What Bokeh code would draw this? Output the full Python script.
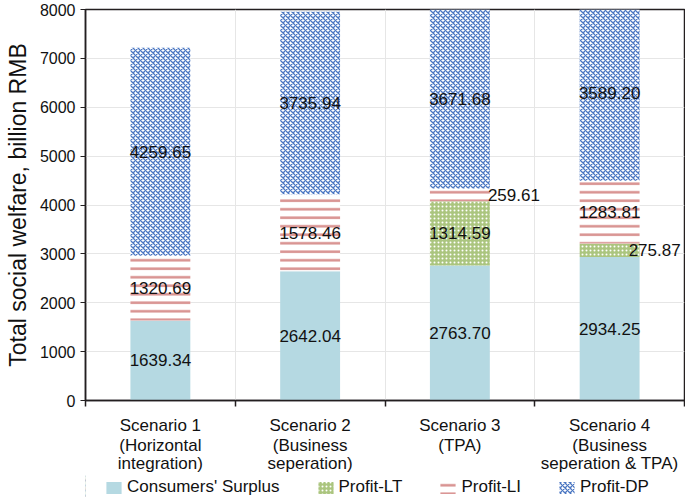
from bokeh.plotting import figure
from bokeh.layouts import column
from bokeh.models import ColumnDataSource, Range1d, FixedTicker, Legend, LegendItem, LinearAxis
from bokeh.embed import file_html
from bokeh.resources import INLINE
from bokeh.core.properties import value

# ---- data ----
scenario_lines = [
    ["Scenario 1", "(Horizontal", "integration)"],
    ["Scenario 2", "(Business", "seperation)"],
    ["Scenario 3", "(TPA)", ""],
    ["Scenario 4", "(Business", "seperation & TPA)"],
]
series_names = ["Consumers' Surplus", "Profit-LT", "Profit-LI", "Profit-DP"]
consumers_surplus = [1639.34, 2642.04, 2763.70, 2934.25]
profit_lt = [0.0, 0.0, 1314.59, 275.87]
profit_li = [1320.69, 1578.46, 259.61, 1283.81]
profit_dp = [4259.65, 3735.94, 3671.68, 3589.20]
y_ticks = [0, 1000, 2000, 3000, 4000, 5000, 6000, 7000, 8000]

series_values = [consumers_surplus, profit_lt, profit_li, profit_dp]

FONT = "Liberation Sans"
DARK = "#231f20"
TXT = "#111111"

styles = [
    dict(fill_color="#b5d9e2"),
    dict(fill_color="#abc57f", hatch_pattern="dot", hatch_color="white", hatch_scale=4, hatch_weight=1.6),
    dict(fill_color="white", hatch_pattern="horizontal_line", hatch_color="#d8918f", hatch_scale=8.5, hatch_weight=2.5),
    dict(fill_color="white", hatch_pattern="diagonal_cross", hatch_color="#4a76c2", hatch_scale=5, hatch_weight=1.3),
]

n = len(scenario_lines)
xs = [i + 0.5 for i in range(n)]

p = figure(frame_width=599, frame_height=391, output_backend="svg", toolbar_location=None,
           x_range=Range1d(0, n), y_range=Range1d(0, 8000),
           min_border_left=85, min_border_top=9, min_border_right=1, min_border_bottom=0)
p.background_fill_color = "white"
p.border_fill_color = "white"
p.outline_line_color = DARK
p.outline_line_width = 1.5

# y axis
ya = p.yaxis[0]
ya.ticker = FixedTicker(ticks=y_ticks)
ya.axis_line_color = DARK
ya.axis_line_width = 1.5
ya.major_tick_line_color = DARK
ya.major_tick_out = 5
ya.major_tick_in = 0
ya.minor_tick_line_color = None
ya.major_label_text_font = FONT
ya.major_label_text_font_size = "16px"
ya.major_label_text_color = TXT
ya.axis_label = "Total social welfare, billion RMB"
ya.axis_label_text_font = FONT
ya.axis_label_text_font_size = "23px"
ya.axis_label_text_font_style = "normal"
ya.axis_label_text_color = TXT
ya.axis_label_text_line_height = 1.0
ya.axis_label_standoff = 6

# x axis: one axis per label line (stacked below the frame)
xa = p.xaxis[0]
xa.ticker = FixedTicker(ticks=xs, minor_ticks=list(range(n + 1)))
xa.axis_line_color = DARK
xa.axis_line_width = 1.5
xa.major_tick_line_color = None
xa.major_tick_out = 6
xa.major_tick_in = 0
xa.minor_tick_line_color = DARK
xa.minor_tick_line_width = 1.5
xa.minor_tick_out = 6
xa.minor_tick_in = 0
xa.major_label_standoff = 9
xa.major_label_overrides = {x: lines[0] for x, lines in zip(xs, scenario_lines)}

extra_axes = []
for li, standoff in ((1, -2), (2, -4)):
    ax = LinearAxis(ticker=FixedTicker(ticks=xs))
    ax.axis_line_color = None
    ax.major_tick_line_color = None
    ax.minor_tick_line_color = None
    ax.major_tick_out = 0
    ax.major_tick_in = 0
    ax.minor_tick_out = 0
    ax.major_label_standoff = standoff
    ax.major_label_overrides = {x: lines[li] for x, lines in zip(xs, scenario_lines)}
    p.add_layout(ax, "below")
    extra_axes.append(ax)

for ax in [xa] + extra_axes:
    ax.major_label_text_font = FONT
    ax.major_label_text_font_size = "17px"
    ax.major_label_text_color = TXT

p.xgrid.ticker = FixedTicker(ticks=list(range(1, n)))
p.xgrid.grid_line_color = "#e6e6e6"
p.ygrid.ticker = FixedTicker(ticks=y_ticks)
p.ygrid.grid_line_color = "#e6e6e6"

# stacked bars
bottoms = [0.0] * n
label_x, label_y, label_txt, label_align, label_dx = [], [], [], [], []
nudge = {(2, 2): 28, (3, 1): 19}  # small segments labelled to the right
for k, (name, vals) in enumerate(zip(series_names, series_values)):
    tops = [b + v for b, v in zip(bottoms, vals)]
    src = ColumnDataSource(dict(x=xs, bottom=bottoms, top=tops))
    p.vbar(x="x", bottom="bottom", top="top", width=0.4, source=src,
           line_color=None, **styles[k])
    for i in range(n):
        if vals[i] > 0:
            label_x.append(xs[i])
            label_y.append((bottoms[i] + tops[i]) / 2)
            label_txt.append("%.2f" % vals[i])
            if (i, k) in nudge:
                label_align.append("left")
                label_dx.append(nudge[(i, k)])
            else:
                label_align.append("center")
                label_dx.append(0)
    bottoms = tops

lsrc = ColumnDataSource(dict(x=label_x, y=label_y, t=label_txt, a=label_align, dx=label_dx))
p.text(x="x", y="y", text="t", source=lsrc, text_align="a", x_offset="dx",
       text_baseline="middle", text_font=value(FONT), text_font_size="17px",
       text_color=TXT)

# legend strip (separate small figure under the chart; its swatch renderers
# sit outside the visible range so only the legend shows)
lf = figure(width=685, height=22, output_backend="svg", toolbar_location=None,
            x_range=Range1d(0, 1), y_range=Range1d(0, 1),
            min_border_left=0, min_border_right=0, min_border_top=0, min_border_bottom=0)
lf.xaxis.visible = False
lf.yaxis.visible = False
lf.xgrid.visible = False
lf.ygrid.visible = False
lf.outline_line_color = None
lf.border_fill_color = "white"
legend_items = []
for k, name in enumerate(series_names):
    r = lf.vbar(x=[-5], top=[1], width=0.4, line_color=None, **styles[k])
    legend_items.append(LegendItem(label=name, renderers=[r]))
legend = Legend(items=legend_items, orientation="horizontal", location=(19, 0),
                label_text_font=FONT, label_text_font_size="17px",
                label_text_color=TXT,
                glyph_width=19, glyph_height=15, spacing=36, label_standoff=4,
                border_line_color=None, padding=0, margin=0,
                background_fill_alpha=0)
lf.add_layout(legend, "center")

open("out.html", "w").write(file_html(column(p, lf), INLINE))
